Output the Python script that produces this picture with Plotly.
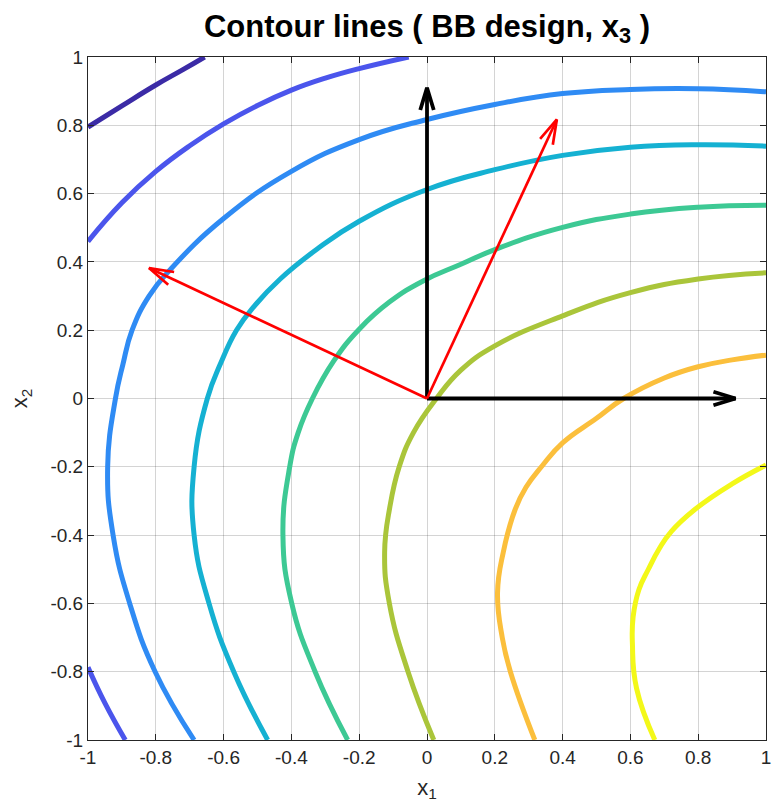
import numpy as np
import plotly.graph_objects as go

# Contour levels of the response surface, traced as (x1, x2) polylines.
# Level 1 (lowest) ... level 8 (highest)
lvl1_x = [-1.0, -0.9, -0.8, -0.72, -0.656]
lvl1_y = [0.795, 0.857, 0.918, 0.963, 1.0]

lvl2a_x = [-1.0, -0.9, -0.8, -0.7, -0.6, -0.5, -0.4, -0.3, -0.2, -0.054]
lvl2a_y = [0.46, 0.573, 0.665, 0.74, 0.804, 0.858, 0.903, 0.938, 0.966, 1.0]
lvl2b_x = [-1.0, -0.95, -0.89]
lvl2b_y = [-0.787, -0.892, -1.0]

lvl3_x = [1.0, 0.8, 0.6, 0.4, 0.2, 0.0, -0.2, -0.4, -0.6, -0.755, -0.82,
          -0.87, -0.897, -0.919, -0.942, -0.926, -0.877, -0.802, -0.687]
lvl3_y = [0.898, 0.907, 0.905, 0.893, 0.861, 0.817, 0.758, 0.665, 0.527, 0.38, 0.3,
          0.2, 0.1, 0.0, -0.2, -0.4, -0.6, -0.8, -1.0]

lvl4_x = [1.0, 0.8, 0.6, 0.4, 0.2, 0.0, -0.2, -0.325, -0.433, -0.51, -0.562,
          -0.61, -0.648, -0.687, -0.687, -0.643, -0.57, -0.47]
lvl4_y = [0.739, 0.743, 0.736, 0.712, 0.67, 0.612, 0.519, 0.437, 0.35, 0.27, 0.2,
          0.1, 0.0, -0.2, -0.4, -0.6, -0.8, -1.0]

lvl5_x = [1.0, 0.8, 0.6, 0.4, 0.2, 0.1, -0.01, -0.11, -0.2, -0.275, -0.338,
          -0.38, -0.405, -0.425, -0.399, -0.33, -0.234]
lvl5_y = [0.566, 0.56, 0.54, 0.501, 0.436, 0.393, 0.345, 0.283, 0.203, 0.11, 0.0,
          -0.1, -0.2, -0.4, -0.6, -0.8, -1.0]

lvl6_x = [1.0, 0.8, 0.6, 0.4, 0.2, 0.1, 0.028, -0.04, -0.082, -0.11,
          -0.125, -0.111, -0.056, 0.02]
lvl6_y = [0.368, 0.35, 0.31, 0.242, 0.154, 0.083, 0.0, -0.1, -0.2, -0.32,
          -0.45, -0.6, -0.8, -1.0]

lvl7_x = [1.0, 0.9, 0.8, 0.7, 0.58, 0.5, 0.4, 0.34, 0.292, 0.26, 0.225, 0.208,
          0.222, 0.246, 0.318]
lvl7_y = [0.127, 0.113, 0.093, 0.06, 0.0, -0.058, -0.13, -0.197, -0.26, -0.325, -0.45, -0.57,
          -0.7, -0.8, -1.0]

lvl8_x = [1.0, 0.9, 0.79, 0.721, 0.685, 0.653, 0.625, 0.608, 0.606, 0.618, 0.672]
lvl8_y = [-0.195, -0.25, -0.325, -0.389, -0.44, -0.5, -0.56, -0.64, -0.72, -0.848, -1.0]

# parula-like colours for the eight levels
level_colors = ["#3B2BA6", "#4B55EC", "#2F8BF4", "#15B1D2",
                "#3DC994", "#AAC53A", "#FBBF3C", "#F3F819"]

curves = [
    (lvl1_x, lvl1_y, 0),
    (lvl2a_x, lvl2a_y, 1),
    (lvl2b_x, lvl2b_y, 1),
    (lvl3_x, lvl3_y, 2),
    (lvl4_x, lvl4_y, 3),
    (lvl5_x, lvl5_y, 4),
    (lvl6_x, lvl6_y, 5),
    (lvl7_x, lvl7_y, 6),
    (lvl8_x, lvl8_y, 7),
]

# Coordinate axes (black) and principal directions (red), tail at origin
axis_u = [0.0, 0.91]
axis_v = [0.91, 0.0]
principal_u = [0.383, -0.82]
principal_v = [0.817, 0.382]

tick_vals = [-1, -0.8, -0.6, -0.4, -0.2, 0, 0.2, 0.4, 0.6, 0.8, 1]
tick_text = ["-1", "-0.8", "-0.6", "-0.4", "-0.2", "0", "0.2", "0.4", "0.6", "0.8", "1"]

FONT = "Liberation Sans, Helvetica, Arial, sans-serif"
DARK = "#262626"

fig = go.Figure()
for xs, ys, k in curves:
    fig.add_trace(go.Scatter(
        x=xs, y=ys, mode="lines",
        line=dict(color=level_colors[k], width=5, shape="spline", smoothing=1.3),
        hoverinfo="skip", showlegend=False,
    ))


def quiver(us, vs, color, width, head_len=0.07, half_angle=17.0):
    """Arrows from the origin with a MATLAB-style open V head."""
    xs, ys = [], []
    a = np.deg2rad(half_angle)
    for u, v in zip(us, vs):
        ang = np.arctan2(v, u)
        xs += [0.0, u, None]
        ys += [0.0, v, None]
        for s in (1, -1):
            bx = u - head_len * np.cos(ang + s * a)
            by = v - head_len * np.sin(ang + s * a)
            xs += [bx, u]
            ys += [by, v]
        xs.append(None)
        ys.append(None)
    fig.add_trace(go.Scatter(
        x=xs, y=ys, mode="lines",
        line=dict(color=color, width=width),
        hoverinfo="skip", showlegend=False,
    ))


quiver(axis_u, axis_v, "#000000", 3.8, head_len=0.068, half_angle=17)
quiver(principal_u, principal_v, "#FF0000", 2.7, head_len=0.075, half_angle=16)

axis_common = dict(
    range=[-1, 1], tickmode="array", tickvals=tick_vals, ticktext=tick_text,
    showgrid=True, gridcolor="rgba(38,38,38,0.2)", gridwidth=1,
    zeroline=False, showline=True, linecolor=DARK, linewidth=1,
    mirror="ticks", ticks="inside", ticklen=6, tickcolor=DARK, tickwidth=1,
    tickfont=dict(family=FONT, size=19, color=DARK),
    ticklabeloverflow="allow",
)

fig.update_layout(
    width=775, height=808,
    margin=dict(l=88, r=4, t=57, b=68),
    paper_bgcolor="white", plot_bgcolor="white",
    title=dict(
        text="<b>Contour lines ( BB design, x<sub>3</sub> )</b>",
        font=dict(family=FONT, size=31, color="#000000"),
        x=0.5, xref="paper", xanchor="center",
        y=1 - 26 / 808, yref="container", yanchor="middle",
    ),
    xaxis=dict(axis_common, title=dict(text="x<sub>1</sub>", standoff=12,
                                       font=dict(family=FONT, size=22, color=DARK))),
    yaxis=dict(axis_common, title=dict(text="x<sub>2</sub>", standoff=16,
                                       font=dict(family=FONT, size=22, color=DARK))),
)

fig.write_html("out.html")
